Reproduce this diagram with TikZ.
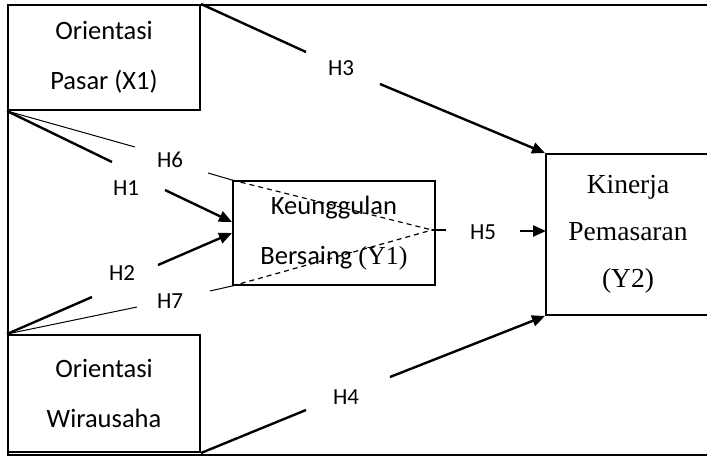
\documentclass[tikz,border=0pt]{standalone}
\usepackage{fontspec}
\setmainfont{Liberation Serif}
\newfontfamily\sansf{Carlito}
\usetikzlibrary{arrows.meta}
\begin{document}
\begin{tikzpicture}[x=1pt,y=-1pt,
  box/.style={draw, line width=2pt, inner sep=0pt, align=center},
  sansbox/.style={box, font=\sansf\fontsize{26.5}{50}\selectfont},
  hlab/.style={font=\sansf\fontsize{23}{23}\selectfont, inner sep=0pt},
  thickln/.style={line width=2.4pt},
  thinln/.style={line width=1pt},
  dashln/.style={line width=1.2pt, dash pattern=on 5pt off 4pt},
  tip/.style={-{Triangle[length=13pt,width=11pt]}}
]
\useasboundingbox (0,0) rectangle (707,456);

% outer frame
\draw[line width=2pt] (714,5) -- (8,5) -- (8,455) -- (714,455);

% variables
\node[sansbox, minimum width=192pt, minimum height=105pt] (x1) at (104,57.5) {Orientasi\\Pasar (X1)};
\node[sansbox, minimum width=192pt, minimum height=117pt] (x2) at (104,393.5) {Orientasi\\Wirausaha};
\node[sansbox, minimum width=202pt, minimum height=104pt] (y1) at (334,233) {Keunggulan\\Bersaing {\rmfamily\fontsize{26}{50}\selectfont(Y1)}};
\node[box, minimum width=164pt, minimum height=161pt, font=\rmfamily\fontsize{27.5}{47}\selectfont] (y2) at (628,234.5) {Kinerja\\Pemasaran\\(Y2)};

% hypothesis labels
\node[hlab] (h1) at (126,188) {H1};
\node[hlab] (h2) at (122,273) {H2};
\node[hlab] (h3) at (341,68) {H3};
\node[hlab] (h4) at (346,397) {H4};
\node[hlab] (h5) at (483,232) {H5};
\node[hlab] (h6) at (170,160) {H6};
\node[hlab] (h7) at (170,301) {H7};

% break points of the connectors around the labels
\coordinate (h1a) at (112,162);  \coordinate (h1b) at (165,190);
\coordinate (h2a) at (92,297);   \coordinate (h2b) at (158,265);
\coordinate (h3a) at (306,52);   \coordinate (h3b) at (380,84);
\coordinate (h4a) at (306,410);  \coordinate (h4b) at (390,377);
\coordinate (h6a) at (135,147);  \coordinate (h6b) at (208,173);
\coordinate (h7a) at (137,307);  \coordinate (h7b) at (210,291);
\coordinate (med) at (432,230);  \coordinate (h5a) at (446,230);
\coordinate (h5b) at (520,231);  \coordinate (y2in) at (546,231);
\coordinate (y1in1) at ([yshift=11pt]y1.west);
\coordinate (y1in2) at (y1.west);

% direct effects
\draw[thickln] (x1.north east) -- (h3a);
\draw[thickln, tip] (h3b) -- (y2.north west);
\draw[thickln] (x2.south east) -- (h4a);
\draw[thickln, tip] (h4b) -- (y2.south west);
\draw[thickln] (x1.south west) -- (h1a);
\draw[thickln, tip] (h1b) -- (y1in1);
\draw[thickln] (x2.north west) -- (h2a);
\draw[thickln, tip] (h2b) -- (y1in2);

% mediated effects
\draw[thinln] (x1.south west) -- (h6a);
\draw[thinln] (h6b) -- (y1.north west);
\draw[dashln] (y1.north west) -- (med);
\draw[thinln] (x2.north west) -- (h7a);
\draw[thinln] (h7b) -- (y1.south west);
\draw[dashln] (y1.south west) -- (med);
\draw[thickln] (med) -- (h5a);
\draw[thickln, tip] (h5b) -- (y2in);
\end{tikzpicture}
\end{document}
